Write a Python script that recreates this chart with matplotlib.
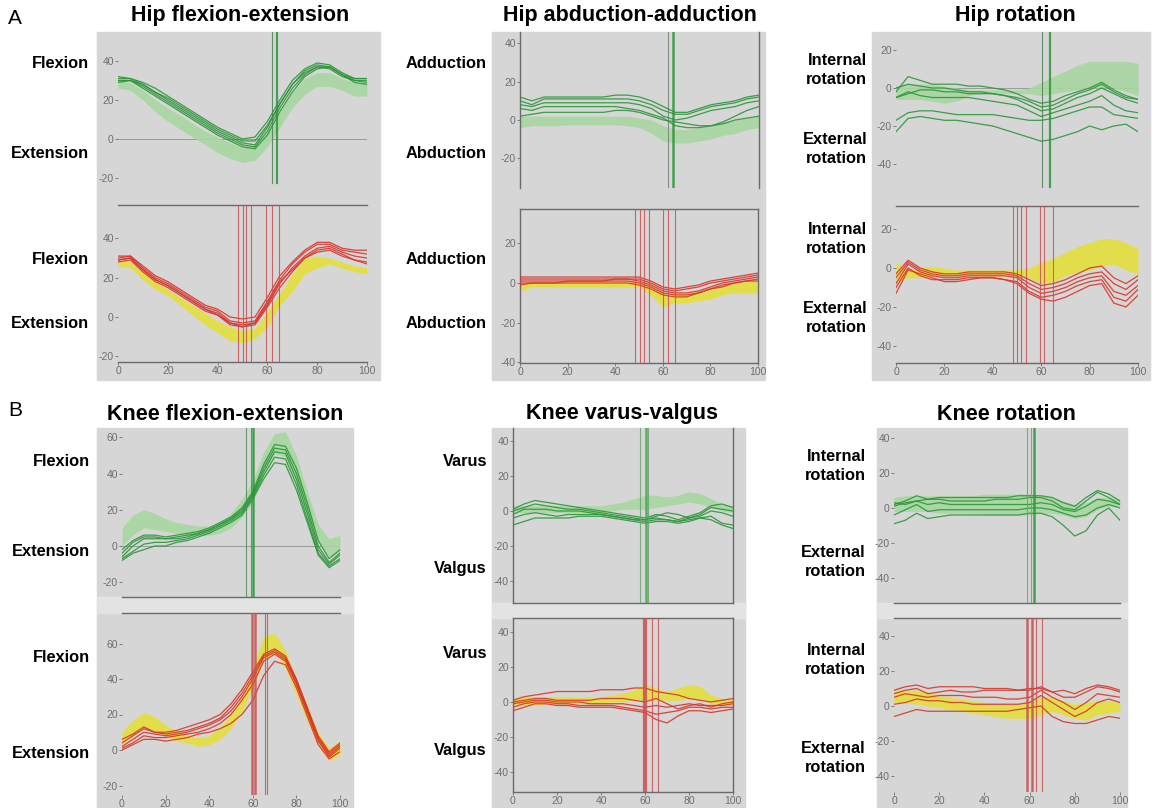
import numpy as np
import matplotlib.pyplot as plt
from matplotlib.patches import Rectangle

W, H = 1156, 808
plt.rcParams['font.family'] = ['Liberation Sans', 'DejaVu Sans']

# gait cycle (%) sampled every 5 %
pct = np.arange(0, 101, 5)

# ---------------- Hip flexion-extension ----------------
hipfe_g_hi = [30, 29, 25, 20, 16, 12, 8, 4, 1, -2, -4, -3, 4, 14, 24, 31, 34, 34, 31, 29, 29]
hipfe_g_lo = [26, 25, 20, 14, 9, 5, 1, -3, -7, -10, -12, -11, -4, 6, 16, 23, 27, 27, 25, 22, 22]
hipfe_g = [
    [31, 31, 28, 24, 20, 16, 12, 8, 4, 1, -2, -3, 6, 18, 28, 35, 38, 37, 33, 31, 31],
    [30, 30, 27, 23, 19, 15, 11, 7, 3, 0, -3, -4, 4, 16, 26, 33, 37, 37, 33, 30, 29],
    [29, 30, 26, 22, 18, 14, 10, 6, 2, -1, -4, -5, 2, 14, 24, 32, 36, 37, 33, 29, 28],
    [32, 31, 29, 26, 22, 18, 14, 10, 6, 3, 0, 1, 9, 20, 30, 36, 39, 38, 34, 31, 31],
    [30, 30, 28, 24, 21, 17, 13, 9, 5, 2, -1, -1, 7, 18, 28, 34, 37, 36, 32, 30, 30],
]
hipfe_y_hi = [29, 28, 23, 18, 14, 10, 6, 2, -2, -5, -7, -6, 3, 12, 22, 30, 31, 30, 28, 26, 25]
hipfe_y_lo = [26, 25, 19, 14, 11, 6, 1, -4, -8, -12, -13, -11, -5, 6, 13, 22, 25, 27, 25, 23, 22]
hipfe_r = [
    [31, 31, 26, 21, 18, 14, 10, 6, 4, 0, -1, 0, 10, 21, 28, 34, 38, 38, 35, 34, 34],
    [30, 31, 25, 20, 17, 13, 9, 5, 3, -2, -3, -2, 8, 19, 27, 33, 37, 37, 34, 33, 32],
    [29, 30, 24, 19, 16, 12, 8, 4, 2, -3, -4, -3, 6, 17, 25, 31, 35, 36, 33, 31, 30],
    [28, 29, 23, 18, 15, 11, 7, 3, 1, -4, -5, -4, 5, 15, 23, 30, 34, 35, 32, 29, 28],
    [29, 30, 24, 19, 16, 12, 8, 4, 1, -3, -5, -3, 7, 18, 24, 30, 33, 34, 31, 29, 27],
]
hipfe_g_ev = [62, 64]
hipfe_r_ev = [48, 50, 51.5, 53.5, 59.5, 62, 64.5]

# ---------------- Hip abduction-adduction ----------------
hipaa_g_hi = [2, 2, 2, 2, 2, 2, 2, 2, 2, 2, 1, 0, -3, -5, -5, -4, -3, -1, 0, 1, 2]
hipaa_g_lo = [-4, -3, -3, -3, -2.5, -2.5, -2.5, -2.5, -2.5, -3, -4, -7, -11, -12, -12, -11, -10, -8, -7, -5, -4]
hipaa_g = [
    [12, 10, 12, 12, 12, 12, 12, 12, 13, 13, 12, 10, 7, 4, 4, 6, 8, 9, 10, 12, 13],
    [10, 8, 11, 11, 11, 11, 11, 11, 11, 11, 10, 8, 5, 3, 3, 5, 7, 8, 9, 11, 12],
    [8, 7, 9, 9, 9, 9, 9, 9, 9, 9, 8, 6, 2, 0, 1, 3, 5, 6, 7, 9, 10],
    [6, 5, 7, 7, 7, 7, 7, 7, 7, 6, 5, 3, 1, -3, -4, -4, -3, -1, 2, 5, 7],
    [2, 3, 4, 4, 4, 4, 4, 4, 5, 5, 4, 2, 0, -1, -2, -3, -3, -2, 0, 1, 2],
]
hipaa_y_hi = [0, 1, 1, 1, 1, 1, 1, 1, 1, 1, 1, -1, -5, -5, -5, -4, -3, -1, 0, 1, 1]
hipaa_y_lo = [-4, -2, -2, -2, -2, -2, -2, -2, -2, -2, -2, -6, -12, -10, -10, -9, -8, -6, -5, -5, -5]
hipaa_r = [
    [3, 3, 3, 3, 3, 3, 3, 3, 3, 3, 3, 1, -2, -3, -2, -1, 1, 2, 3, 4, 5],
    [2, 2, 2, 2, 2, 2, 2, 2, 2, 2, 2, 0, -3, -4, -3, -2, 0, 1, 2, 3, 4],
    [1, 1, 1, 1, 1, 1, 1, 1, 2, 2, 1, -1, -4, -5, -5, -4, -2, 0, 1, 2, 3],
    [0, 0, 0, 0, 1, 1, 1, 1, 1, 1, 0, -2, -5, -6, -6, -5, -3, -1, 0, 1, 2],
    [-1, 0, 0, 0, 0, 0, 0, 0, 0, 0, -1, -3, -6, -7, -7, -5, -3, -2, 0, 1, 1],
]
hipaa_g_ev = [64]
hipaa_gray_ev = [62]
hipaa_r_ev = [48.5, 50.3, 52, 54, 60, 62.2, 65.3]

# ---------------- Hip rotation ----------------
hiprot_g_hi = [1, 2, 2, 2, 1, 0, -1, -1, -1, -1, -1, 0, 3, 6, 9, 12, 14, 14, 14, 14, 13]
hiprot_g_lo = [-6, -6, -6, -7, -8, -7, -4, -3, -3, -3, -3, -3, -4, -3, -2, -1, 0, 0, 0, -2, -4]
hiprot_g = [
    [-2, 6, 4, 2, 2, 2, 1, 1, 0, -1, -3, -6, -8, -7, -4, -2, 0, 3, -1, -4, -6],
    [0, 2, 1, 0, 0, -1, -2, -2, -3, -4, -5, -7, -10, -9, -6, -3, -1, 2, -2, -5, -6],
    [-5, -3, -1, -1, -2, -2, -3, -3, -3, -4, -6, -9, -12, -11, -8, -5, -3, 0, -3, -6, -8],
    [-5, -2, -4, -5, -5, -5, -5, -6, -7, -8, -9, -12, -15, -13, -11, -9, -7, -4, -9, -12, -13],
    [-17, -13, -12, -12, -13, -14, -14, -14, -14, -15, -16, -17, -17, -16, -14, -12, -10, -10, -14, -15, -16],
    [-23, -16, -15, -16, -17, -17, -18, -19, -20, -22, -24, -26, -28, -27, -25, -23, -20, -22, -20, -19, -23],
]
hiprot_y_hi = [3, -1, 0, 1, 0, -1, -1, -1, -1, -1, -1, 0, 3, 5, 8, 11, 13, 15, 15, 13, 10]
hiprot_y_lo = [-7, -5, -5, -4, -4, -4, -4, -4, -4, -4, -4, -5, -8, -7, -4, -2, -1, 1, 2, -1, -3]
hiprot_r = [
    [-3, 4, 0, -2, -3, -3, -2, -2, -2, -2, -3, -6, -9, -8, -6, -3, 0, 1, -5, -8, -4],
    [-5, 3, -1, -3, -4, -4, -3, -3, -3, -3, -4, -8, -11, -10, -8, -5, -3, -2, -8, -11, -6],
    [-8, 2, -2, -4, -5, -5, -4, -4, -4, -4, -5, -10, -13, -12, -10, -7, -5, -4, -12, -14, -9],
    [-10, 0, -4, -6, -6, -6, -5, -5, -5, -6, -7, -12, -15, -14, -12, -9, -7, -6, -15, -17, -11],
    [-13, -1, -3, -5, -7, -7, -6, -5, -5, -6, -8, -13, -16, -17, -15, -12, -9, -8, -18, -20, -14],
]
hiprot_g_ev = [60.5, 63.5]
hiprot_r_ev = [48.4, 50, 51.8, 53.9, 59.4, 61, 65]

# ---------------- Knee flexion-extension ----------------
kneefe_g_hi = [10, 17, 20, 18, 15, 13, 12, 11, 11, 13, 18, 26, 36, 52, 62, 63, 50, 30, 12, 4, 6]
kneefe_g_lo = [0, 6, 10, 9, 8, 7, 6, 6, 6, 7, 10, 16, 24, 40, 51, 49, 34, 16, 2, -6, -4]
kneefe_g = [
    [-2, 3, 6, 6, 5, 6, 7, 8, 10, 13, 16, 21, 30, 45, 56, 55, 43, 24, 3, -7, -2],
    [-4, 2, 5, 5, 4, 5, 6, 7, 9, 12, 15, 20, 29, 43, 54, 53, 40, 21, 0, -9, -4],
    [-6, 0, 4, 4, 4, 4, 5, 7, 9, 12, 15, 19, 28, 41, 52, 51, 37, 18, -2, -10, -5],
    [-7, -3, 1, 2, 2, 3, 4, 6, 8, 11, 14, 18, 27, 39, 49, 48, 34, 15, -4, -11, -7],
    [-8, -4, -2, 0, 0, 2, 3, 5, 7, 10, 13, 17, 26, 37, 46, 45, 31, 13, -5, -12, -8],
]
kneefe_y_hi = [10, 17, 21, 19, 14, 11, 8, 7, 8, 13, 20, 30, 46, 64, 66, 56, 40, 25, 10, 1, 5]
kneefe_y_lo = [3, 8, 12, 11, 8, 5, 4, 2, 3, 6, 12, 22, 35, 51, 55, 46, 31, 16, 3, -6, -3]
kneefe_r = [
    [6, 9, 13, 10, 10, 11, 13, 15, 17, 20, 26, 34, 44, 54, 57, 53, 40, 24, 8, -1, 4],
    [4, 8, 12, 10, 9, 10, 11, 13, 15, 18, 24, 32, 42, 53, 56, 52, 39, 23, 7, -2, 3],
    [2, 6, 10, 9, 8, 9, 10, 12, 14, 17, 22, 30, 40, 52, 55, 51, 38, 22, 6, -3, 2],
    [1, 4, 8, 7, 7, 8, 9, 10, 12, 15, 20, 28, 37, 50, 54, 50, 37, 21, 5, -4, 1],
    [0, 3, 6, 6, 5, 6, 7, 9, 10, 12, 15, 20, 28, 42, 50, 48, 35, 19, 3, -5, -1],
]
kneefe_g_ev = [57, 59, 60]
kneefe_r_ev = [59.5, 61, 65.6, 66.4]

# ---------------- Knee varus-valgus ----------------
kneevv_g_hi = [3, 3, 3, 3, 3, 3, 3, 3, 3, 4, 5, 7, 9, 9, 8, 9, 11, 10, 7, 4, 3]
kneevv_g_lo = [-1, -1, -1, -1, -1, -1, -1, -1, -1, 0, 1, 1, 1, 2, 3, 4, 5, 4, 2, 0, -1]
kneevv_g = [
    [1, 4, 6, 5, 4, 3, 2, 1, 0, -1, -2, -3, -4, -2, -3, -5, -3, -1, 3, 4, 2],
    [0, 2, 4, 3, 2, 1, 1, 0, -1, -2, -3, -4, -5, -4, -5, -6, -4, -2, 2, 1, 0],
    [-2, 1, 1, 1, 0, 0, 0, -1, -2, -3, -4, -5, -5, -3, -1, -2, -4, -3, 0, -1, -3],
    [-4, -2, -1, -2, -3, -2, -2, -2, -2, -3, -4, -5, -6, -5, -5, -6, -5, -4, -3, -7, -8],
    [-8, -6, -4, -4, -4, -4, -3, -3, -3, -4, -5, -6, -7, -6, -6, -7, -6, -4, -5, -8, -10],
]
kneevv_y_hi = [2, 3, 3, 3, 3, 3, 3, 3, 3, 4, 5, 7, 10, 8, 6, 8, 10, 9, 4, 2, 2]
kneevv_y_lo = [-2, -2, -2, -1, -1, -1, -1, -1, -1, 0, 0, 1, 1, 1, 1, 1, 2, 2, -1, -2, -2]
kneevv_r = [
    [1, 3, 4, 5, 6, 6, 6, 6, 7, 7, 7, 8, 8, 6, 5, 4, 2, 1, 0, 1, 2],
    [0, 1, 2, 2, 1, 1, 1, 1, 2, 2, 2, 1, 0, 2, -1, -4, -2, -1, -3, -1, 0],
    [-1, 0, 1, 1, 0, 0, 0, -1, -1, -1, -1, -2, -3, -2, -3, -2, -1, -2, -2, -2, -1],
    [-3, -1, 0, 0, -1, -1, -2, -2, -2, -2, -3, -4, -5, -7, -6, -5, -3, -3, -4, -3, -3],
    [-5, -3, -1, -1, -2, -2, -3, -3, -3, -3, -4, -5, -6, -10, -12, -8, -5, -5, -6, -5, -4],
]
kneevv_g_ev = [57.6, 60.3, 61.4]
kneevv_r_ev = [59.5, 60.6, 63.2, 66]

# ---------------- Knee rotation ----------------
kneerot_g_hi = [6, 7, 7, 7, 7, 7, 7, 7, 8, 8, 8, 8, 8, 7, 6, 4, 2, 3, 6, 6, 5]
kneerot_g_lo = [-2, -2, -2, -2, -3, -3, -3, -3, -4, -4, -4, -4, -4, -3, -3, -4, -6, -5, -1, 1, 1]
kneerot_g = [
    [2, 4, 7, 5, 6, 6, 6, 6, 6, 6, 6, 7, 7, 7, 6, 3, 1, 6, 10, 8, 4],
    [1, 3, 4, 5, 5, 4, 4, 4, 4, 5, 5, 5, 6, 6, 4, 0, -1, 4, 9, 6, 2],
    [3, 2, 4, 2, 3, 2, 2, 2, 2, 2, 2, 2, 2, 3, 2, -1, -2, 1, 5, 4, 2],
    [-4, -1, 2, -2, -1, -1, -1, -1, -1, -1, -1, -1, 0, 0, -1, -3, -5, -4, 0, 2, 0],
    [-9, -7, -3, -6, -5, -4, -4, -4, -4, -4, -4, -4, -3, -3, -5, -10, -16, -13, -4, 0, -7],
]
kneerot_y_hi = [9, 9, 9, 8, 6, 5, 4, 3, 2, 1, 1, 1, 2, 5, 5, 3, 1, 2, 3, 3, 2]
kneerot_y_lo = [2, 2, 1, 0, -1, -2, -3, -4, -5, -6, -7, -7, -7, -5, -3, -5, -7, -8, -5, -4, -3]
kneerot_r = [
    [9, 11, 12, 10, 11, 11, 11, 11, 10, 10, 10, 9, 10, 10, 8, 9, 7, 10, 12, 11, 9],
    [7, 9, 10, 7, 8, 9, 8, 8, 9, 9, 9, 9, 9, 11, 8, 5, 5, 8, 11, 10, 8],
    [5, 7, 6, 5, 6, 6, 6, 5, 5, 5, 4, 4, 5, 9, 5, 2, -2, 2, 7, 6, 5],
    [1, 2, 4, 3, 3, 2, 2, 1, 1, 1, 1, 1, 2, 6, 2, -2, -6, -3, 2, 4, 2],
    [-6, -4, -2, -3, -3, -3, -3, -3, -3, -3, -3, -2, -1, 0, -6, -9, -10, -10, -8, -6, -7],
]
kneerot_g_ev = [59, 60.6, 62]
kneerot_r_ev = [59, 61, 63, 65.3]

titles = ['Hip flexion-extension', 'Hip abduction-adduction', 'Hip rotation',
          'Knee flexion-extension', 'Knee varus-valgus', 'Knee rotation']
side_hi = ['Flexion', 'Adduction', 'Internal\nrotation', 'Flexion', 'Varus', 'Internal\nrotation']
side_lo = ['Extension', 'Abduction', 'External\nrotation', 'Extension', 'Valgus', 'External\nrotation']
xticks = [0, 20, 40, 60, 80, 100]

BG = '#d6d6d6'
STRIP = '#e3e3e3'
GREEN = '#2b9638'
GREEN_BAND = '#a8d6a0'
RED = '#d8342a'
YELLOW = '#e4df3c'
AXC = '#6a6a6a'

fig = plt.figure(figsize=(W / 100, H / 100), dpi=100)
fig.patch.set_facecolor('white')


def frect(x0, y0, x1, y1, color):
    fig.patches.append(Rectangle((x0 / W, 1 - y1 / H), (x1 - x0) / W, (y1 - y0) / H,
                                 transform=fig.transFigure, color=color, zorder=-10))


def make_ax(x0, x100, top, bottom, zero, s20):
    ax = fig.add_axes([x0 / W, 1 - bottom / H, (x100 - x0) / W, (bottom - top) / H])
    ax.set_xlim(0, 100)
    ax.set_ylim((zero - bottom) / s20 * 20, (zero - top) / s20 * 20)
    ax.patch.set_alpha(0)
    for s in ax.spines.values():
        s.set_visible(False)
        s.set_color(AXC)
        s.set_linewidth(1.0)
    ax.tick_params(length=2, width=0.6, pad=1, labelsize=7.5, colors='#6e6e6e')
    return ax


def draw(ax, lo, hi, curves, lc, bc, events, ev_color, yt, spines, xlab,
         ev_ymin=0.0, zero_line=False):
    ax.fill_between(pct, lo, hi, color=bc, alpha=0.9, lw=0, zorder=1)
    if zero_line:
        ax.axhline(0, color='#9a9a9a', lw=0.7, zorder=0.5)
    for c in curves:
        ax.plot(pct, c, color=lc, lw=0.9, alpha=0.9, zorder=3)
    for e in events:
        ax.axvline(e, ymin=ev_ymin, color=ev_color, lw=0.8, alpha=0.85, zorder=4)
    ax.set_yticks(yt)
    ax.set_yticklabels([str(v) for v in yt])
    if xlab:
        ax.set_xticks(xticks)
        ax.set_xticklabels([str(v) for v in xticks])
    else:
        ax.set_xticks([])
    for s in spines:
        ax.spines[s].set_visible(True)


# photo-like gray backgrounds
frect(97, 32, 380, 380, BG)
frect(492, 32, 765, 380, BG)
frect(872, 32, 1150, 380, BG)
frect(97, 428, 353, 808, BG)
frect(492, 428, 745, 808, BG)
frect(877, 428, 1127, 808, BG)
frect(97, 597, 353, 613, STRIP)
frect(492, 603, 745, 618, STRIP)
frect(877, 603, 1127, 618, STRIP)

# Hip flexion-extension
ax = make_ax(118, 367, 32, 205, 139, 39)
draw(ax, hipfe_g_lo, hipfe_g_hi, hipfe_g, GREEN, GREEN_BAND, hipfe_g_ev, GREEN,
     [40, 20, 0, -20], ['bottom'], False, ev_ymin=0.13, zero_line=True)
ax.lines[-2].set_color('#4f7f55')
ax.lines[-1].set_linewidth(1.6)
ax = make_ax(118, 367, 205, 362, 317, 39.3)
draw(ax, hipfe_y_lo, hipfe_y_hi, hipfe_r, RED, YELLOW, hipfe_r_ev, '#c85050',
     [40, 20, 0, -20], ['bottom'], True)

# Hip abduction-adduction
ax = make_ax(520, 759, 32, 188, 120, 38.3)
draw(ax, hipaa_g_lo, hipaa_g_hi, hipaa_g, GREEN, GREEN_BAND, hipaa_g_ev, GREEN,
     [40, 20, 0, -20], ['left', 'right'], False)
ax.lines[-1].set_linewidth(1.8)
for e in hipaa_gray_ev:
    ax.axvline(e, color='#8a8a8a', lw=0.8, zorder=2)
ax = make_ax(520, 758, 209, 363, 283, 39.7)
draw(ax, hipaa_y_lo, hipaa_y_hi, hipaa_r, RED, YELLOW, hipaa_r_ev, '#c85050',
     [20, 0, -20, -40], ['left', 'right', 'top', 'bottom'], True)

# Hip rotation
ax = make_ax(896, 1138, 32, 206, 88, 38)
draw(ax, hiprot_g_lo, hiprot_g_hi, hiprot_g, GREEN, GREEN_BAND, hiprot_g_ev, GREEN,
     [20, 0, -20, -40], ['bottom'], False, ev_ymin=0.11, zero_line=True)
ax.lines[-2].set_color('#4f7f55')
ax.lines[-1].set_linewidth(1.6)
ax = make_ax(896, 1138, 206, 363, 268, 39)
draw(ax, hiprot_y_lo, hiprot_y_hi, hiprot_r, RED, YELLOW, hiprot_r_ev, '#c85050',
     [20, 0, -20, -40], ['bottom'], True)

# Knee flexion-extension
ax = make_ax(122, 340, 428, 597, 546, 36.25)
draw(ax, kneefe_g_lo, kneefe_g_hi, kneefe_g, GREEN, GREEN_BAND, kneefe_g_ev, '#4f8f5a',
     [60, 40, 20, 0, -20], ['bottom'], False, zero_line=True)
ax.lines[-1].set_linewidth(1.8)
ax.lines[-1].set_color(GREEN)
ax = make_ax(122, 340, 613, 795, 750, 35.5)
draw(ax, kneefe_y_lo, kneefe_y_hi, kneefe_r, RED, YELLOW, kneefe_r_ev, '#c85050',
     [60, 40, 20, 0, -20], ['top'], True)
ax.lines[-4].set_linewidth(1.8)
ax.lines[-3].set_linewidth(1.8)

# Knee varus-valgus
ax = make_ax(513, 733, 428, 603, 511, 35)
draw(ax, kneevv_g_lo, kneevv_g_hi, kneevv_g, GREEN, GREEN_BAND, kneevv_g_ev, '#6f9f75',
     [40, 20, 0, -20, -40], ['left', 'right', 'bottom'], False)
ax.lines[-2].set_linewidth(1.8)
ax.lines[-2].set_color('#3faa4a')
ax = make_ax(513, 733, 618, 792, 702, 35)
draw(ax, kneevv_y_lo, kneevv_y_hi, kneevv_r, RED, YELLOW, kneevv_r_ev, '#c85050',
     [40, 20, 0, -20, -40], ['left', 'right', 'top', 'bottom'], True)
ax.lines[-4].set_linewidth(1.6)
ax.lines[-3].set_linewidth(1.6)

# Knee rotation
ax = make_ax(894, 1120, 428, 603, 508, 35)
draw(ax, kneerot_g_lo, kneerot_g_hi, kneerot_g, GREEN, GREEN_BAND, kneerot_g_ev, '#6f9f75',
     [40, 20, 0, -20, -40], ['bottom'], False)
ax.lines[-1].set_linewidth(1.8)
ax.lines[-1].set_color(GREEN)
ax = make_ax(894, 1120, 618, 792, 706, 35)
draw(ax, kneerot_y_lo, kneerot_y_hi, kneerot_r, RED, YELLOW, kneerot_r_ev, '#c85050',
     [40, 20, 0, -20, -40], ['top'], True)
ax.lines[-4].set_linewidth(1.8)
ax.lines[-3].set_linewidth(1.8)

# titles, panel letters and side labels
title_pos = [(240, 15), (630, 15), (1015, 15), (225, 414), (622, 414), (1006, 414)]
for t, (x, y) in zip(titles, title_pos):
    fig.text(x / W, 1 - y / H, t, ha='center', va='center', fontsize=15.5, fontweight='bold')
fig.text(8 / W, 1 - 18 / H, 'A', ha='left', va='center', fontsize=15)
fig.text(8 / W, 1 - 410 / H, 'B', ha='left', va='center', fontsize=15)

label_x = [89, 487, 867, 90, 487, 866]
label_y = [(63, 154, 259, 323), (63, 154, 259, 323), (70, 149, 239, 318),
           (462, 552, 658, 754), (462, 568, 654, 751), (466, 562, 660, 758)]
for i in range(6):
    ys = label_y[i]
    for y, txt in zip(ys, [side_hi[i], side_lo[i], side_hi[i], side_lo[i]]):
        fig.text(label_x[i] / W, 1 - y / H, txt, ha='right', va='center',
                 fontsize=11.8, fontweight='bold', linespacing=1.3)

fig.savefig('out.png', dpi=100)
